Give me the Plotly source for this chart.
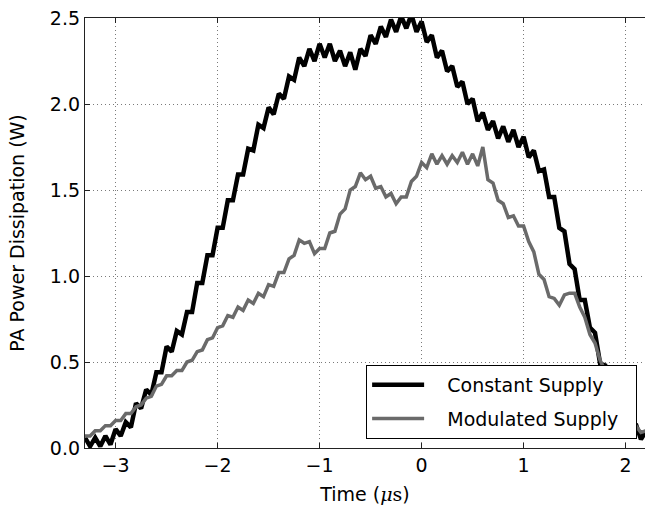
import plotly.graph_objects as go

# Time samples (microseconds)
time_us = [-3.30, -3.25, -3.20, -3.15, -3.10, -3.05, -3.00, -2.95, -2.90, -2.85,
           -2.80, -2.75, -2.70, -2.65, -2.60, -2.55, -2.50, -2.45, -2.40, -2.35,
           -2.30, -2.25, -2.20, -2.15, -2.10, -2.05, -2.00, -1.95, -1.90, -1.85,
           -1.80, -1.75, -1.70, -1.65, -1.60, -1.55, -1.50, -1.45, -1.40, -1.35,
           -1.30, -1.25, -1.20, -1.15, -1.10, -1.05, -1.00, -0.95, -0.90, -0.85,
           -0.80, -0.75, -0.70, -0.65, -0.60, -0.55, -0.50, -0.45, -0.40, -0.35,
           -0.30, -0.25, -0.20, -0.15, -0.10, -0.05, 0.00, 0.05, 0.10, 0.15,
           0.20, 0.25, 0.30, 0.35, 0.40, 0.45, 0.50, 0.55, 0.60, 0.65,
           0.70, 0.75, 0.80, 0.85, 0.90, 0.95, 1.00, 1.05, 1.10, 1.15,
           1.20, 1.25, 1.30, 1.35, 1.40, 1.45, 1.50, 1.55, 1.60, 1.65,
           1.70, 1.75, 1.80, 1.85, 1.90, 1.95, 2.00, 2.05, 2.10, 2.15, 2.20]

# PA power dissipation (W), constant supply
constant_supply = [0.06, 0.01, 0.06, 0.01, 0.07, 0.02, 0.11, 0.07, 0.15, 0.12,
                   0.26, 0.23, 0.34, 0.31, 0.44, 0.44, 0.59, 0.56, 0.68, 0.66,
                   0.79, 0.79, 0.96, 0.96, 1.12, 1.12, 1.28, 1.28, 1.44, 1.44,
                   1.59, 1.59, 1.74, 1.73, 1.88, 1.86, 1.98, 1.94, 2.06, 2.03,
                   2.16, 2.14, 2.27, 2.22, 2.32, 2.25, 2.35, 2.27, 2.35, 2.25,
                   2.31, 2.22, 2.30, 2.20, 2.32, 2.28, 2.40, 2.35, 2.45, 2.39,
                   2.49, 2.42, 2.51, 2.44, 2.52, 2.42, 2.48, 2.36, 2.40, 2.27,
                   2.31, 2.19, 2.22, 2.10, 2.13, 2.00, 2.03, 1.90, 1.95, 1.85,
                   1.90, 1.80, 1.87, 1.78, 1.85, 1.75, 1.81, 1.69, 1.73, 1.61,
                   1.62, 1.46, 1.46, 1.28, 1.26, 1.07, 1.04, 0.86, 0.86, 0.70,
                   0.67, 0.49, 0.48, 0.32, 0.34, 0.20, 0.22, 0.10, 0.14, 0.05, 0.10]

# PA power dissipation (W), modulated supply
modulated_supply = [0.07, 0.07, 0.10, 0.10, 0.13, 0.13, 0.16, 0.16, 0.20, 0.20,
                    0.24, 0.25, 0.29, 0.30, 0.36, 0.37, 0.42, 0.42, 0.45, 0.45,
                    0.50, 0.51, 0.56, 0.57, 0.63, 0.64, 0.70, 0.71, 0.77, 0.76,
                    0.82, 0.80, 0.86, 0.84, 0.90, 0.88, 0.95, 0.94, 1.02, 1.02,
                    1.10, 1.12, 1.21, 1.19, 1.20, 1.13, 1.16, 1.16, 1.25, 1.26,
                    1.36, 1.39, 1.50, 1.52, 1.60, 1.56, 1.58, 1.51, 1.52, 1.46,
                    1.48, 1.42, 1.46, 1.46, 1.55, 1.58, 1.66, 1.63, 1.71, 1.65,
                    1.70, 1.65, 1.70, 1.66, 1.72, 1.65, 1.71, 1.64, 1.75, 1.56,
                    1.54, 1.44, 1.42, 1.34, 1.35, 1.29, 1.29, 1.20, 1.14, 1.01,
                    0.98, 0.88, 0.87, 0.83, 0.89, 0.90, 0.90, 0.82, 0.76, 0.66,
                    0.61, 0.51, 0.45, 0.36, 0.31, 0.23, 0.20, 0.14, 0.13, 0.09, 0.10]

x_ticks = [-3, -2, -1, 0, 1, 2]
x_tick_text = ["\u22123", "\u22122", "\u22121", "0", "1", "2"]
y_ticks = [0.0, 0.5, 1.0, 1.5, 2.0, 2.5]
y_tick_text = ["0.0", "0.5", "1.0", "1.5", "2.0", "2.5"]

FONT = "DejaVu Sans, Verdana, sans-serif"
FS = 19
LPAD = "\u00a0\u00a0\u00a0"
RPAD = "\u00a0\u00a0"

fig = go.Figure()
fig.add_trace(go.Scatter(x=time_us, y=constant_supply, mode="lines",
                         name=LPAD + "Constant Supply" + RPAD, legendgroup="a",
                         line=dict(color="#000000", width=4.5)))
fig.add_trace(go.Scatter(x=time_us, y=modulated_supply, mode="lines",
                         name=LPAD + "Modulated Supply" + RPAD, legendgroup="b",
                         line=dict(color="#6a6a6a", width=3.5)))

fig.update_layout(
    width=645, height=506,
    margin=dict(l=85, r=0, t=18, b=58),
    paper_bgcolor="white", plot_bgcolor="white",
    font=dict(family=FONT, size=FS, color="#000000"),
    showlegend=True,
    legend=dict(x=0.502, y=0.193, xanchor="left", yanchor="top",
                bgcolor="white", bordercolor="#000000", borderwidth=1,
                font=dict(family=FONT, size=FS),
                itemwidth=52, tracegroupgap=6, traceorder="grouped"),
    xaxis=dict(range=[-3.30, 2.19], tickvals=x_ticks, ticktext=x_tick_text,
               showgrid=True, gridcolor="#7a7a7a", griddash="1px,3px", gridwidth=1,
               showline=True, linecolor="#222222", linewidth=1.3, mirror="ticks",
               ticks="inside", ticklen=5, tickcolor="#222222",
               zeroline=False,
               title=dict(text="Time (<span style='font-family:DejaVu Serif'><i>\u03bc</i>s</span>)",
                          standoff=12, font=dict(size=FS))),
    yaxis=dict(range=[0, 2.5], tickvals=y_ticks, ticktext=y_tick_text,
               showgrid=True, gridcolor="#7a7a7a", griddash="1px,3px", gridwidth=1,
               showline=True, linecolor="#222222", linewidth=1.3,
               ticks="inside", ticklen=5, tickcolor="#222222",
               zeroline=False,
               title=dict(text="PA Power Dissipation (W)", standoff=20,
                          font=dict(size=FS))),
)

fig.write_html("out.html")
